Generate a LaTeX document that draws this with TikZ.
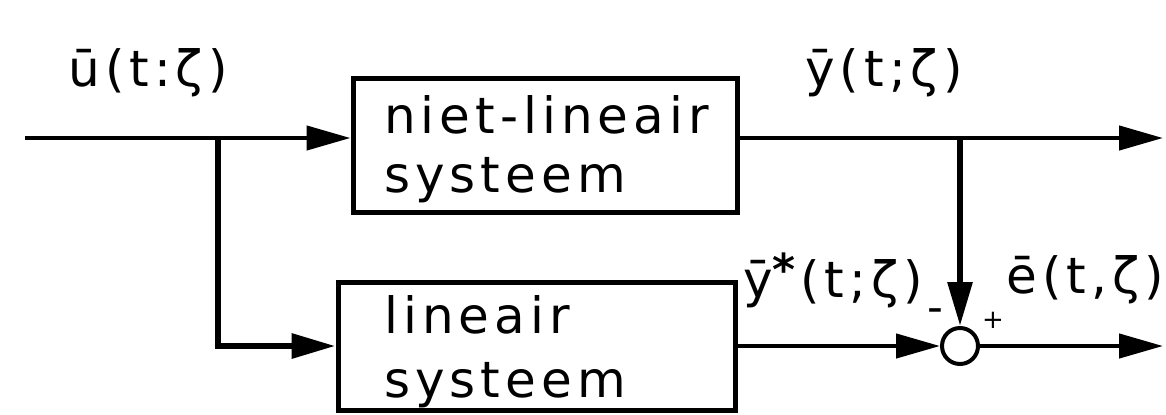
\documentclass[tikz,border=0pt]{standalone}
\usepackage{fontspec}
\setmainfont{DejaVu Sans}[LetterSpace=10]
\usetikzlibrary{arrows.meta}
\begin{document}
\begin{tikzpicture}[x=0.5pt,y=-0.5pt,
  line width=2.2pt,
  blk/.style={draw,line width=2.5pt,rectangle,inner sep=0pt},
  txt/.style={inner sep=0pt,anchor=base west,font=\fontsize{25}{30}\selectfont},
  lbl/.style={font=\fontsize{25}{30}\selectfont,inner sep=0pt},
  arr/.style={-{Triangle[length=22pt,width=12pt]}},
  sumc/.style={draw,circle,minimum size=18pt,inner sep=0pt,line width=2pt}]
\useasboundingbox (0,0) rectangle (1166,414);
% blocks
\node[blk,minimum width=192pt,minimum height=67pt] (nl) at (545,145) {};
\node[blk,minimum width=198.5pt,minimum height=64pt] (lin) at (536.5,346) {};
\node[txt] (nlt1) at (382,133) {niet-lineair};
\node[txt] (nlt2) at (382,192) {systeem};
\node[txt] (lint1) at (382,333) {lineair};
\node[txt] (lint2) at (382,397) {systeem};
% summing point
\node[sumc] (s) at (960,346) {};
% coordinates
\coordinate (in) at (25,138);
\coordinate (br) at (218,138);
\coordinate (tap) at (960,138);
\coordinate (out1) at (1163,138);
\coordinate (out2) at (1163,346);
% connectors
\draw[arr] (in) -- (in -| nl.west);
\draw[arr,line width=3.2pt] (br) |- (lin.west);
\draw[arr] (nl.east |- in) -- (out1);
\draw[arr,line width=3pt] (tap) -- (s.north);
\draw[arr] (lin.east) -- (s.west);
\draw[arr] (s.east) -- (out2);
% labels
\node[lbl] (u) at (148,73) {ū(t:ζ)};
\node[lbl] (y) at (884,73) {ȳ(t;ζ)};
\node[lbl] (ys) at (833,280) {ȳ\raisebox{6pt}{\fontsize{22}{22}\selectfont\textbf{*}}(t;ζ)};
\node[lbl] (e) at (1085,280) {ē(t,ζ)};
\node[font=\fontsize{22}{22}\selectfont,inner sep=0pt] (m) at (935,316) {-};
\node[font=\fontsize{13}{13}\selectfont,inner sep=0pt] (p) at (993,320) {+};
\end{tikzpicture}
\end{document}
